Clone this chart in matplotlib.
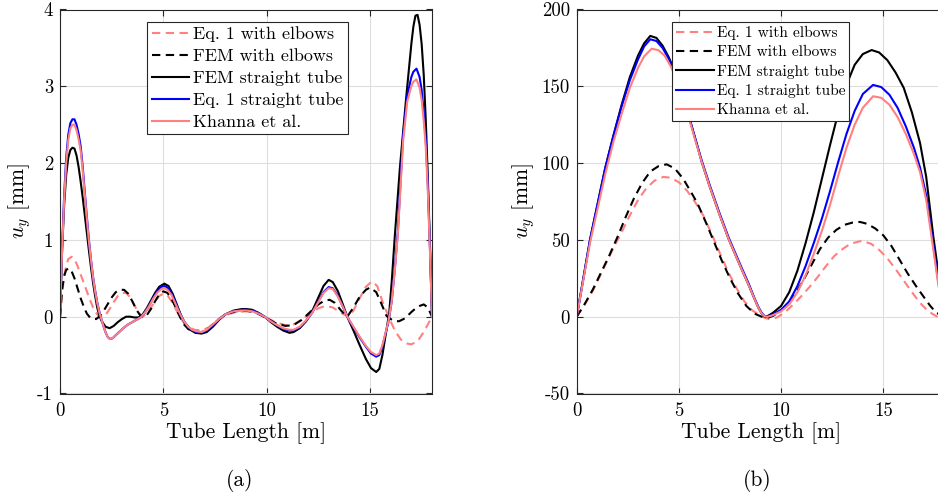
import matplotlib
matplotlib.use("Agg")
import matplotlib.pyplot as plt
from matplotlib.ticker import FixedLocator, FixedFormatter

plt.rcParams['font.family'] = ['cmr10', 'DejaVu Serif']
plt.rcParams['mathtext.fontset'] = 'cm'
plt.rcParams['axes.unicode_minus'] = False

# ---------------- Panel (a) data ----------------
a_eq1_elb_x = [0, 0.1, 0.2, 0.3, 0.4, 0.56, 0.7, 0.85, 1.0, 1.15, 1.3, 1.45, 1.6, 1.75, 1.9, 2.05, 2.2, 2.4, 2.6, 2.8, 3.0, 3.2, 3.4, 3.6, 3.8, 4.0, 4.2, 4.4, 4.6, 4.8, 5.0, 5.2, 5.4, 5.6, 5.8, 6.0, 6.2, 6.5, 6.85, 7.2, 7.6, 8.0, 8.5, 9.0, 9.5, 10.0, 10.4, 10.9, 11.3, 11.7, 12.1, 12.5, 12.85, 13.2, 13.6, 13.95, 14.2, 14.5, 14.8, 15.1, 15.35, 15.6, 15.9, 16.2, 16.5, 16.8, 17.0, 17.3, 17.6, 17.8, 18.0]
a_eq1_elb_y = [0, 0.3, 0.52, 0.67, 0.75, 0.78, 0.75, 0.66, 0.55, 0.44, 0.33, 0.22, 0.12, 0.05, 0.0, -0.01, 0.02, 0.1, 0.19, 0.27, 0.31, 0.31, 0.25, 0.15, 0.05, 0.0, 0.04, 0.12, 0.2, 0.27, 0.3, 0.28, 0.2, 0.1, 0.0, -0.08, -0.13, -0.17, -0.18, -0.14, -0.05, 0.02, 0.06, 0.07, 0.05, -0.01, -0.07, -0.11, -0.1, -0.04, 0.04, 0.11, 0.14, 0.12, 0.05, 0.0, 0.08, 0.24, 0.39, 0.46, 0.4, 0.2, 0.0, -0.18, -0.3, -0.35, -0.36, -0.32, -0.2, -0.1, 0.0]

a_fem_elb_x = [0, 0.1, 0.2, 0.3, 0.43, 0.55, 0.7, 0.85, 1.0, 1.15, 1.3, 1.45, 1.6, 1.75, 1.9, 2.1, 2.3, 2.5, 2.7, 2.9, 3.1, 3.3, 3.5, 3.7, 3.9, 4.05, 4.2, 4.4, 4.6, 4.8, 5.0, 5.2, 5.4, 5.6, 5.8, 6.0, 6.2, 6.5, 6.85, 7.2, 7.6, 8.0, 8.5, 9.0, 9.5, 10.0, 10.4, 10.9, 11.3, 11.7, 12.1, 12.5, 12.8, 13.05, 13.3, 13.6, 13.9, 14.2, 14.5, 14.8, 15.0, 15.3, 15.55, 15.8, 16.1, 16.4, 16.7, 17.0, 17.3, 17.6, 17.8, 17.95, 18.0]
a_fem_elb_y = [0, 0.35, 0.53, 0.61, 0.63, 0.6, 0.5, 0.37, 0.24, 0.13, 0.04, -0.01, -0.03, -0.03, 0.0, 0.07, 0.16, 0.25, 0.32, 0.35, 0.35, 0.3, 0.2, 0.09, 0.01, -0.01, 0.02, 0.1, 0.2, 0.29, 0.33, 0.31, 0.23, 0.12, 0.0, -0.1, -0.16, -0.2, -0.2, -0.15, -0.05, 0.03, 0.07, 0.08, 0.05, -0.02, -0.08, -0.12, -0.11, -0.04, 0.06, 0.16, 0.21, 0.22, 0.18, 0.08, 0.0, 0.12, 0.26, 0.35, 0.38, 0.32, 0.17, 0.01, -0.05, -0.06, -0.02, 0.06, 0.13, 0.16, 0.12, 0.03, 0.0]

a_fem_str_x = [0, 0.1, 0.2, 0.3, 0.4, 0.5, 0.6, 0.7, 0.8, 0.9, 1.0, 1.1, 1.2, 1.3, 1.4, 1.5, 1.6, 1.7, 1.8, 1.9, 2.0, 2.2, 2.4, 2.6, 2.8, 3.0, 3.2, 3.4, 3.6, 3.8, 4.0, 4.2, 4.4, 4.6, 4.8, 5.05, 5.25, 5.45, 5.65, 5.85, 6.05, 6.3, 6.55, 6.85, 7.1, 7.4, 7.7, 8.0, 8.4, 8.8, 9.0, 9.3, 9.6, 9.9, 10.2, 10.5, 10.8, 11.1, 11.3, 11.6, 11.9, 12.2, 12.5, 12.75, 13.0, 13.2, 13.45, 13.7, 13.9, 14.2, 14.5, 14.8, 15.05, 15.3, 15.45, 15.6, 15.75, 15.93, 16.05, 16.2, 16.45, 16.75, 17.0, 17.1, 17.2, 17.3, 17.4, 17.5, 17.6, 17.7, 17.8, 17.9, 18.0]
a_fem_str_y = [0, 0.85, 1.45, 1.85, 2.07, 2.17, 2.2, 2.19, 2.1, 1.95, 1.76, 1.55, 1.32, 1.09, 0.86, 0.64, 0.44, 0.27, 0.12, 0.02, -0.05, -0.13, -0.15, -0.12, -0.07, -0.03, 0.0, 0.0, -0.01, -0.01, 0.03, 0.11, 0.21, 0.31, 0.39, 0.43, 0.4, 0.3, 0.16, 0.02, -0.09, -0.17, -0.21, -0.22, -0.2, -0.13, -0.04, 0.03, 0.08, 0.1, 0.1, 0.09, 0.05, 0.0, -0.07, -0.13, -0.18, -0.21, -0.2, -0.15, -0.06, 0.07, 0.25, 0.4, 0.48, 0.45, 0.33, 0.15, 0.0, -0.18, -0.37, -0.55, -0.67, -0.72, -0.68, -0.5, -0.25, 0.05, 0.45, 1.05, 1.95, 2.85, 3.55, 3.78, 3.92, 3.93, 3.8, 3.55, 3.15, 2.55, 1.8, 0.95, 0.0]

a_eq1_str_x = [0, 0.1, 0.2, 0.3, 0.4, 0.5, 0.6, 0.7, 0.8, 0.9, 1.0, 1.1, 1.2, 1.3, 1.4, 1.5, 1.6, 1.7, 1.8, 1.9, 2.0, 2.1, 2.2, 2.3, 2.41, 2.55, 2.7, 2.9, 3.1, 3.3, 3.5, 3.7, 3.9, 4.1, 4.3, 4.5, 4.7, 4.9, 5.05, 5.2, 5.4, 5.6, 5.8, 6.0, 6.2, 6.4, 6.6, 6.85, 7.1, 7.4, 7.7, 8.0, 8.4, 8.8, 9.0, 9.3, 9.6, 9.9, 10.2, 10.5, 10.8, 11.1, 11.3, 11.6, 11.9, 12.2, 12.5, 12.75, 13.0, 13.2, 13.45, 13.7, 13.9, 14.2, 14.5, 14.8, 15.05, 15.3, 15.45, 15.6, 15.75, 15.9, 16.05, 16.2, 16.35, 16.45, 16.6, 16.8, 17.0, 17.1, 17.25, 17.4, 17.5, 17.6, 17.7, 17.8, 17.9, 18.0]
a_eq1_str_y = [0, 0.88, 1.58, 2.07, 2.37, 2.52, 2.57, 2.57, 2.5, 2.38, 2.22, 1.95, 1.62, 1.3, 1.0, 0.74, 0.52, 0.34, 0.19, 0.07, -0.03, -0.12, -0.2, -0.26, -0.29, -0.28, -0.24, -0.19, -0.14, -0.1, -0.07, -0.04, -0.01, 0.05, 0.14, 0.24, 0.33, 0.39, 0.40, 0.38, 0.3, 0.18, 0.05, -0.06, -0.13, -0.18, -0.2, -0.21, -0.18, -0.11, -0.03, 0.03, 0.07, 0.09, 0.09, 0.08, 0.05, 0.0, -0.06, -0.11, -0.16, -0.18, -0.18, -0.14, -0.06, 0.05, 0.2, 0.32, 0.385, 0.37, 0.27, 0.12, 0.0, -0.14, -0.27, -0.39, -0.48, -0.52, -0.5, -0.39, -0.22, -0.06, 0.2, 0.62, 1.12, 1.62, 2.35, 2.88, 3.12, 3.19, 3.23, 3.12, 2.95, 2.65, 2.3, 1.7, 0.9, 0.0]

a_khanna_x = [0, 0.1, 0.2, 0.3, 0.4, 0.5, 0.6, 0.7, 0.8, 0.9, 1.0, 1.1, 1.2, 1.3, 1.4, 1.5, 1.6, 1.7, 1.8, 1.9, 2.0, 2.1, 2.2, 2.3, 2.41, 2.55, 2.7, 2.9, 3.1, 3.3, 3.5, 3.7, 3.9, 4.1, 4.3, 4.5, 4.7, 4.9, 5.05, 5.2, 5.4, 5.6, 5.8, 6.0, 6.2, 6.4, 6.6, 6.85, 7.1, 7.4, 7.7, 8.0, 8.4, 8.8, 9.0, 9.3, 9.6, 9.9, 10.2, 10.5, 10.8, 11.1, 11.3, 11.6, 11.9, 12.2, 12.5, 12.75, 13.0, 13.2, 13.45, 13.7, 13.9, 14.2, 14.5, 14.8, 15.05, 15.3, 15.45, 15.6, 15.75, 15.9, 16.05, 16.2, 16.35, 16.45, 16.6, 16.8, 17.0, 17.1, 17.25, 17.4, 17.5, 17.6, 17.7, 17.8, 17.9, 18.0]
a_khanna_y = [0, 0.85, 1.52, 2.0, 2.3, 2.45, 2.5, 2.5, 2.43, 2.31, 2.16, 1.9, 1.58, 1.27, 0.98, 0.73, 0.51, 0.33, 0.18, 0.06, -0.03, -0.12, -0.2, -0.26, -0.29, -0.28, -0.24, -0.19, -0.14, -0.1, -0.07, -0.04, -0.01, 0.05, 0.13, 0.23, 0.31, 0.36, 0.37, 0.35, 0.28, 0.16, 0.04, -0.06, -0.13, -0.17, -0.19, -0.2, -0.17, -0.1, -0.03, 0.03, 0.07, 0.08, 0.08, 0.07, 0.04, 0.0, -0.06, -0.11, -0.15, -0.17, -0.17, -0.13, -0.05, 0.05, 0.19, 0.31, 0.37, 0.36, 0.26, 0.12, 0.0, -0.13, -0.26, -0.38, -0.46, -0.5, -0.48, -0.37, -0.21, -0.05, 0.2, 0.6, 1.08, 1.55, 2.28, 2.8, 3.0, 3.06, 3.09, 2.98, 2.82, 2.55, 2.2, 1.62, 0.85, 0.0]

# ---------------- Panel (b) data ----------------
b_eq1_elb_x = [0, 0.4, 0.81, 1.3, 1.79, 2.2, 2.6, 3.0, 3.4, 3.8, 4.24, 4.6, 5.0, 5.4, 5.8, 6.19, 6.6, 7.0, 7.4, 7.8, 8.2, 8.6, 9.0, 9.2, 9.46, 9.8, 10.2, 10.6, 11.0, 11.4, 11.8, 12.2, 12.6, 13.0, 13.4, 13.94, 14.4, 14.8, 15.2, 15.6, 16.0, 16.4, 16.8, 17.2, 17.6, 18.0]
b_eq1_elb_y = [0, 8, 17.3, 31, 44.5, 55, 66, 76, 83.5, 88.5, 91, 90.5, 87.5, 82, 74.5, 66, 54, 41.5, 29.5, 19, 10, 4, 0.7, -0.8, -1.7, -0.5, 3, 8, 13.5, 19.5, 26, 33, 39.5, 44, 47.5, 49.4, 47.5, 43.5, 38, 31, 23.5, 16, 9, 3.5, 0.3, -1]

b_fem_elb_x = [0, 0.4, 0.8, 1.2, 1.6, 2.0, 2.4, 2.8, 3.2, 3.6, 4.0, 4.4, 4.8, 5.2, 5.6, 5.9, 6.3, 6.68, 7.1, 7.5, 7.9, 8.3, 8.7, 9.05, 9.3, 9.6, 9.9, 10.3, 10.7, 11.1, 11.5, 11.9, 12.3, 12.7, 13.1, 13.5, 13.86, 14.2, 14.6, 15.0, 15.4, 15.8, 16.2, 16.6, 17.0, 17.3, 17.6, 18.0]
b_fem_elb_y = [0, 8.5, 18, 29, 40, 52, 65, 77, 87, 94.5, 98, 99.2, 96.5, 90, 81, 74, 62, 50, 36.5, 25, 15, 7, 2, 0, -0.8, 0.5, 3, 8, 15, 24, 34, 44, 51.5, 56.5, 59.8, 61.3, 61.7, 60.5, 57.5, 53, 46, 37, 28, 20, 12.5, 7, 2.5, 0]

b_fem_str_x = [0, 0.3, 0.65, 1.0, 1.4, 1.8, 2.2, 2.6, 3.0, 3.3, 3.6, 3.9, 4.2, 4.5, 4.8, 5.1, 5.54, 5.8, 6.11, 6.5, 7.0, 7.45, 8.0, 8.4, 8.7, 8.9, 9.05, 9.2, 9.35, 9.6, 10.0, 10.4, 10.8, 11.2, 11.6, 12.0, 12.4, 12.8, 13.2, 13.6, 14.0, 14.43, 14.8, 15.2, 15.6, 16.0, 16.4, 16.8, 17.1, 17.45, 17.7, 18.0]
b_fem_str_y = [0, 23, 50, 72, 97, 118, 138, 156, 170, 178, 182.8, 181.5, 176.5, 169, 160, 149, 128, 116, 101, 85, 66, 50, 33, 21, 11.5, 5.5, 2, 0, 0.5, 2.5, 7, 16, 30, 48, 68, 90, 112, 133, 151, 164, 171, 173.6, 172, 167, 159, 149, 133, 113, 91, 52, 28, 0]

b_eq1_str_x = [0, 0.3, 0.65, 1.0, 1.4, 1.8, 2.2, 2.6, 3.0, 3.3, 3.6, 3.9, 4.2, 4.5, 4.8, 5.1, 5.54, 5.8, 6.11, 6.5, 7.0, 7.45, 8.0, 8.4, 8.7, 8.9, 9.05, 9.2, 9.35, 9.6, 10.0, 10.4, 10.8, 11.2, 11.6, 12.0, 12.4, 12.8, 13.2, 13.6, 14.0, 14.5, 14.9, 15.3, 15.7, 16.1, 16.5, 16.8, 17.1, 17.37, 17.7, 18.0]
b_eq1_str_y = [0, 23, 50, 72, 97, 118, 137, 154, 167.5, 176, 180.6, 179.5, 175, 168, 159, 148, 128, 116, 102, 86, 67, 51, 34, 22, 12, 6, 2.5, 0.3, 0, 1.5, 4.5, 10, 20, 33, 48, 64, 82, 101, 119, 134, 145, 150.9, 149.5, 144.5, 136, 124, 110, 97, 79, 54, 22, 0]

b_khanna_x = [0, 0.3, 0.65, 1.0, 1.4, 1.8, 2.2, 2.6, 3.0, 3.3, 3.67, 4.0, 4.3, 4.6, 4.9, 5.2, 5.54, 5.8, 6.11, 6.5, 7.0, 7.45, 8.0, 8.4, 8.7, 8.9, 9.05, 9.2, 9.35, 9.6, 10.0, 10.4, 10.8, 11.2, 11.6, 12.0, 12.4, 12.8, 13.2, 13.6, 14.0, 14.5, 14.9, 15.3, 15.7, 16.1, 16.5, 16.8, 17.1, 17.35, 17.7, 18.0]
b_khanna_y = [0, 22, 48, 69, 93, 114, 132, 149, 162, 169.5, 174.5, 173.5, 170, 163, 154, 144, 127, 115, 101, 85, 66, 50, 33, 21, 11.5, 5.5, 2, 0.2, 0, 1, 3.5, 8, 16, 27, 41, 56, 73, 92, 110, 125, 136, 143.5, 142.5, 138, 130, 119, 106, 94, 76, 53, 20, 0]

labels = ["Eq. 1 with elbows", "FEM with elbows", "FEM straight tube",
          "Eq. 1 straight tube", "Khanna et al."]

a_xticks = [0, 5, 10, 15]
a_yticks = [-1, 0, 1, 2, 3, 4]
a_yticklabels = ["-1", "0", "1", "2", "3", "4"]
b_yticks = [-50, 0, 50, 100, 150, 200]
b_yticklabels = ["-50", "0", "50", "100", "150", "200"]

PINK = "#ff8080"
BLUE = "#0000ff"
BLACK = "#000000"
LW = 1.5
DASH = (4, 2.6)

W, H = 938, 499
fig = plt.figure(figsize=(W / 100, H / 100), dpi=100)


def px_axes(x0, x1, ytop, ybot):
    return [x0 / W, 1 - ybot / H, (x1 - x0) / W, (ybot - ytop) / H]


ax1 = fig.add_axes(px_axes(60, 432, 9.5, 393.5))
ax2 = fig.add_axes(px_axes(576.7, 944.6, 9.5, 393.5))


def draw(ax, series, xticks, yticks, yticklabels, ylim, leg_anchor, leg_fs,
         leg_hl):
    (x1, y1), (x2, y2), (x3, y3), (x4, y4), (x5, y5) = series
    h = []
    h += ax.plot(x1, y1, color=PINK, lw=LW, linestyle=(0, DASH))
    h += ax.plot(x2, y2, color=BLACK, lw=LW, linestyle=(0, DASH))
    h += ax.plot(x3, y3, color=BLACK, lw=LW)
    h += ax.plot(x4, y4, color=BLUE, lw=LW)
    h += ax.plot(x5, y5, color=PINK, lw=LW)
    ax.set_xlim(0, 18)
    ax.set_ylim(*ylim)
    ax.xaxis.set_major_locator(FixedLocator(xticks))
    ax.yaxis.set_major_locator(FixedLocator(yticks))
    ax.yaxis.set_major_formatter(FixedFormatter(yticklabels))
    ax.grid(True, color="#dedede", lw=0.8)
    ax.set_axisbelow(True)
    ax.tick_params(direction="in", top=True, right=True, length=4, width=0.8,
                   labelsize=13.5, colors="#262626", labelcolor="black")
    ax.tick_params(axis="x", pad=6)
    ax.tick_params(axis="y", pad=5)
    for s in ax.spines.values():
        s.set_color("#262626")
        s.set_linewidth(0.8)
    ax.set_xlabel("Tube Length [m]", fontsize=15.5, labelpad=2)
    ax.set_ylabel(r"$u_y$ [mm]", fontsize=15.5, labelpad=3)
    leg = fig.legend(h, labels, loc="upper left", bbox_to_anchor=leg_anchor,
                     bbox_transform=fig.transFigure, fontsize=leg_fs,
                     frameon=True, fancybox=False, framealpha=1,
                     edgecolor="#262626", borderpad=0.25, borderaxespad=0,
                     handlelength=leg_hl, handletextpad=0.2, labelspacing=0.34)
    leg.get_frame().set_linewidth(0.8)
    return leg


draw(ax1, [(a_eq1_elb_x, a_eq1_elb_y), (a_fem_elb_x, a_fem_elb_y),
           (a_fem_str_x, a_fem_str_y), (a_eq1_str_x, a_eq1_str_y),
           (a_khanna_x, a_khanna_y)],
     a_xticks, a_yticks, a_yticklabels, (-1, 4), (147 / W, 1 - 22 / H), 13,
     2.1)
draw(ax2, [(b_eq1_elb_x, b_eq1_elb_y), (b_fem_elb_x, b_fem_elb_y),
           (b_fem_str_x, b_fem_str_y), (b_eq1_str_x, b_eq1_str_y),
           (b_khanna_x, b_khanna_y)],
     a_xticks, b_yticks, b_yticklabels, (-50, 200), (672 / W, 1 - 22 / H),
     11.1, 2.45)

fig.text(240 / W, 1 - 480 / H, "(a)", ha="center", va="center", fontsize=15.5)
fig.text(757 / W, 1 - 480 / H, "(b)", ha="center", va="center", fontsize=15.5)

fig.savefig("out.png", dpi=100)
